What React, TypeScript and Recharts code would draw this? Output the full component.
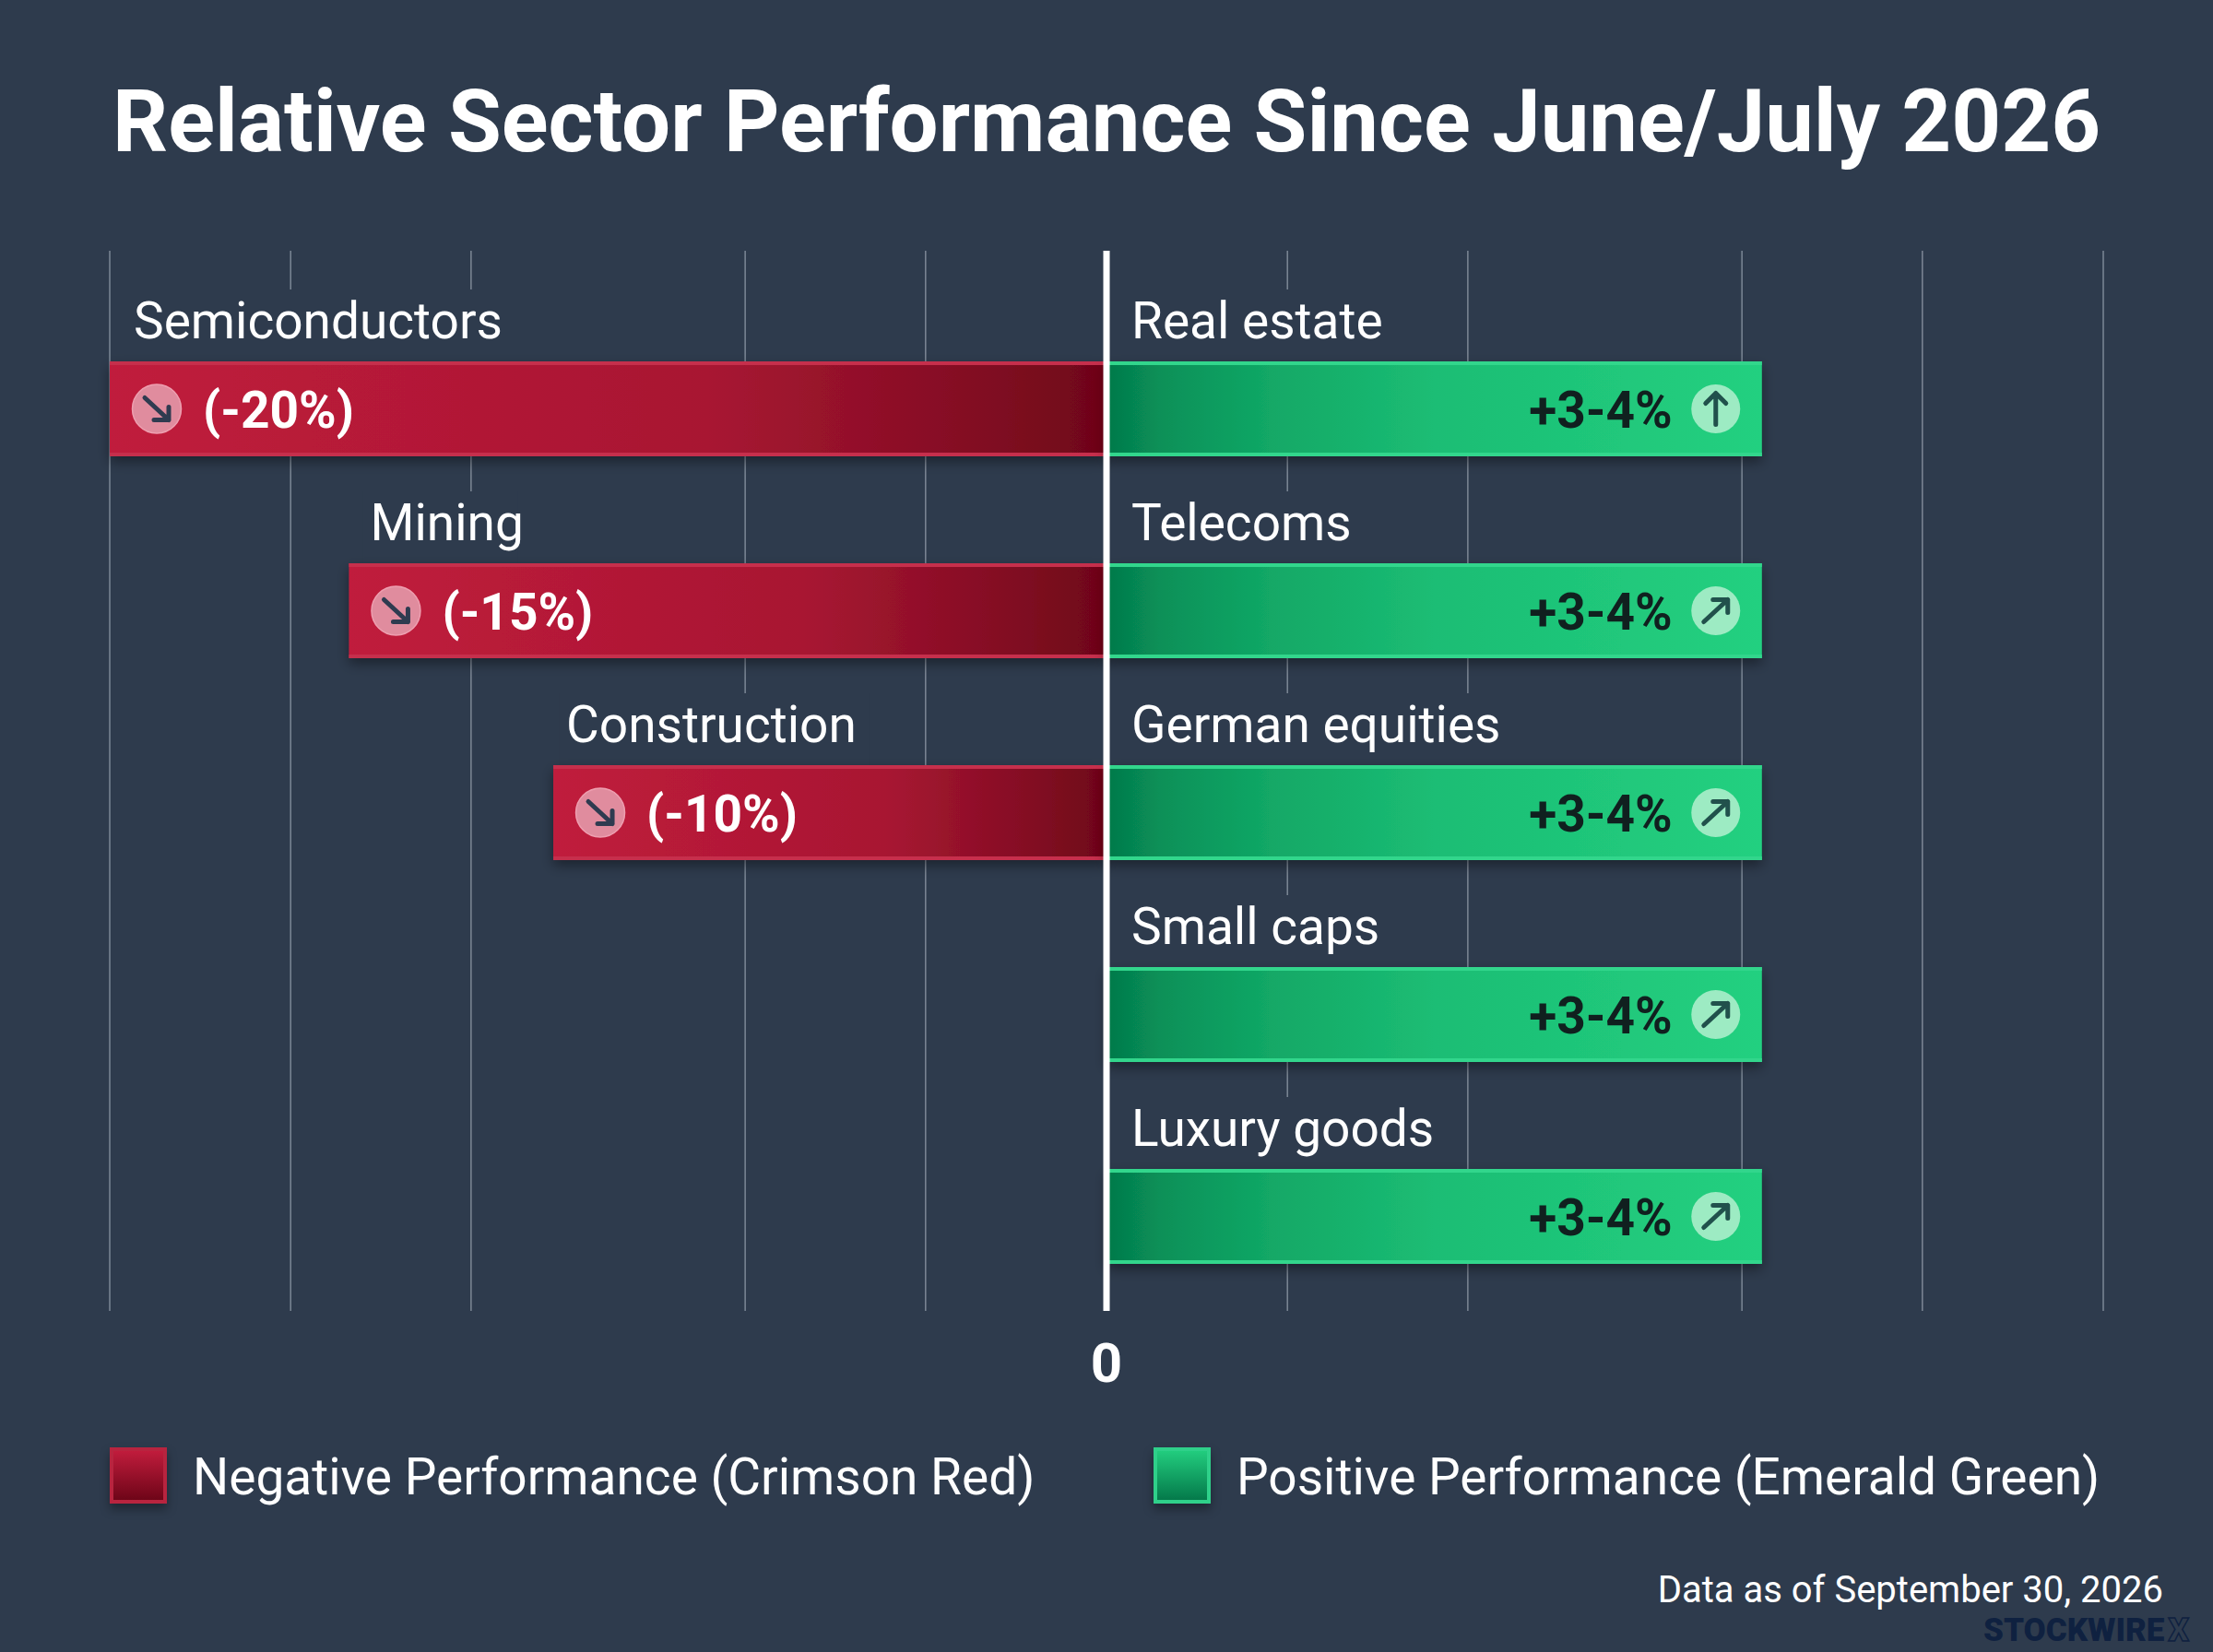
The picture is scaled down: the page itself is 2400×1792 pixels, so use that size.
import { BarChart, Bar, XAxis, YAxis, CartesianGrid, ReferenceLine, Legend } from "recharts";

const W = 2400;
const H = 1792;
const BG = "#2e3b4d";
const FONT = "Roboto, sans-serif";

// rows are shared: one sector on each side of the zero line
const negativeSectors = ["Semiconductors", "Mining", "Construction"];
const negativeValues = [-20, -15.2, -11.1]; // bar lengths as drawn, not to the printed scale
const negativeLabels = ["(-20%)", "(-15%)", "(-10%)"];
const positiveSectors = ["Real estate", "Telecoms", "German equities", "Small caps", "Luxury goods"];
const positiveValues = [13.15, 13.15, 13.15, 13.15, 13.15];
const positiveLabels = ["+3-4%", "+3-4%", "+3-4%", "+3-4%", "+3-4%"];
const positiveArrows = ["up", "diag", "diag", "diag", "diag"];
const gridTicks = [-20, -16.37, -12.75, -7.25, -3.63, 0, 3.63, 7.25, 12.75, 16.37, 20];

// the name above each red bar sits a little differently from the bar's end
const NEG_NAME_INSET = [26, 23, 14];

const rows = positiveSectors.map((sector, i) => ({
  row: sector,
  negative: negativeValues[i] ?? null,
  negativeName: negativeSectors[i],
  negativeLabel: negativeLabels[i],
  positive: positiveValues[i],
  positiveLabel: positiveLabels[i],
  arrow: positiveArrows[i],
}));

function SectorLabel({ x, y, text }: { x: number; y: number; text: string }) {
  return (
    <g>
      <rect x={x - 8} y={y - 78} width={text.length * 28} height={78} fill={BG} />
      <text x={x} y={y - 25} fill="#ffffff" fontFamily={FONT} fontSize={55} fontWeight={400}>
        {text}
      </text>
    </g>
  );
}

function Arrow({ cx, cy, kind, color }: { cx: number; cy: number; kind: string; color: string }) {
  const path =
    kind === "up"
      ? "M0 17 L0 -17 M-11 -6 L0 -17 L11 -6"
      : kind === "down"
      ? "M-13 -12 L13 12 M-3 12 L13 12 L13 -2"
      : "M-13 12 L13 -12 M-3 -12 L13 -12 L13 2";
  return (
    <path
      d={path}
      transform={`translate(${cx} ${cy})`}
      fill="none"
      stroke={color}
      strokeWidth={5}
      strokeLinecap="round"
      strokeLinejoin="round"
    />
  );
}

function NegativeBar(props: any) {
  const { x, y, width, height, payload, index } = props;
  if (!payload.negativeName) return null;
  const left = Math.min(x, x + width);
  const w = Math.abs(width);
  const cy = y + height / 2;
  return (
    <g>
      <SectorLabel x={left + NEG_NAME_INSET[index]} y={y} text={payload.negativeName} />
      <rect x={left} y={y} width={w} height={height} fill="url(#negGrad)" filter="url(#barShadow)" />
      <rect x={left} y={y} width={w} height={4} fill="#c62f4c" />
      <rect x={left} y={y + height - 4} width={w} height={4} fill="#c62f4c" />
      <circle cx={left + 51} cy={cy} r={26.5} fill="#e08c9e" stroke="#ee9fb0" strokeWidth={1.5} />
      <Arrow cx={left + 51} cy={cy} kind="down" color="#2f3b50" />
      <text x={left + 101} y={cy + 20} fill="#ffffff" fontFamily={FONT} fontSize={55} fontWeight={700}>
        {payload.negativeLabel}
      </text>
    </g>
  );
}

function PositiveBar(props: any) {
  const { x, y, width, height, payload } = props;
  const cy = y + height / 2;
  const right = x + width;
  return (
    <g>
      <SectorLabel x={x + 27} y={y} text={payload.row} />
      <rect x={x} y={y} width={width} height={height} fill="url(#posGrad)" filter="url(#barShadow)" />
      <rect x={x} y={y} width={width} height={4} fill="#32d68c" />
      <rect x={x} y={y + height - 4} width={width} height={4} fill="#32d68c" />
      <text
        x={right - 97}
        y={cy + 20}
        textAnchor="end"
        fill="#10201f"
        fontFamily={FONT}
        fontSize={55}
        fontWeight={700}
      >
        {payload.positiveLabel}
      </text>
      <circle cx={right - 50} cy={cy} r={26.5} fill="#9debc3" />
      <Arrow cx={right - 50} cy={cy} kind={payload.arrow} color="#21514c" />
    </g>
  );
}

function LegendRow({ payload }: any) {
  const styles = [
    { left: 119, textLeft: 209, bg: "linear-gradient(#c01c3c, #6e0518)", border: "#b8243f" },
    { left: 1251, textLeft: 1341, bg: "linear-gradient(#22cc7e, #04794a)", border: "#2fd08a" },
  ];
  return (
    <div style={{ position: "relative", width: W, height: 61 }}>
      {(payload || []).map((item: any, i: number) => (
        <div key={item.value}>
          <div
            style={{
              position: "absolute",
              left: styles[i].left,
              top: 0,
              width: 62,
              height: 61,
              boxSizing: "border-box",
              background: styles[i].bg,
              border: `4px solid ${styles[i].border}`,
              boxShadow: "0 6px 10px rgba(0,0,0,0.35)",
            }}
          />
          <div
            style={{
              position: "absolute",
              left: styles[i].textLeft,
              top: 2,
              lineHeight: "61px",
              color: "#ffffff",
              fontFamily: FONT,
              fontSize: 55,
              whiteSpace: "nowrap",
            }}
          >
            {item.value}
          </div>
        </div>
      ))}
    </div>
  );
}

export default function App() {
  return (
    <div style={{ position: "absolute", left: 0, top: 0, width: W, height: H, background: BG, overflow: "hidden" }}>
      <div
        style={{
          position: "absolute",
          left: 0,
          width: W,
          top: 72,
          textAlign: "center",
          color: "#ffffff",
          fontFamily: FONT,
          fontWeight: 700,
          fontSize: 94,
          lineHeight: "120px",
          whiteSpace: "nowrap",
        }}
      >
        Relative Sector Performance Since June/July 2026
      </div>

      <BarChart
        width={W}
        height={H}
        data={rows}
        layout="vertical"
        stackOffset="sign"
        margin={{ top: 272, right: 119, bottom: 229, left: 119 }}
        style={{ position: "absolute", left: 0, top: 0 }}
      >
        <defs>
          <linearGradient id="negGrad" x1="0" y1="0" x2="1" y2="0">
            <stop offset="0%" stopColor="#c01c3c" />
            <stop offset="60%" stopColor="#a81632" />
            <stop offset="85%" stopColor="#850d24" />
            <stop offset="100%" stopColor="#6e0518" />
          </linearGradient>
          <linearGradient id="posGrad" x1="0" y1="0" x2="1" y2="0">
            <stop offset="0%" stopColor="#04794a" />
            <stop offset="8%" stopColor="#089058" />
            <stop offset="25%" stopColor="#12a866" />
            <stop offset="50%" stopColor="#1cbd74" />
            <stop offset="100%" stopColor="#23d080" />
          </linearGradient>
          <filter id="barShadow" x="-5%" y="-20%" width="110%" height="150%">
            <feDropShadow dx={0} dy={6} stdDeviation={7} floodColor="#000000" floodOpacity={0.4} />
          </filter>
        </defs>
        <CartesianGrid horizontal={false} stroke="#7d8896" strokeWidth={1.5} />
        <XAxis
          type="number"
          domain={[-20, 20]}
          ticks={gridTicks}
          interval={0}
          height={80}
          axisLine={false}
          tickLine={false}
          tickMargin={28}
          tick={{ fill: "#ffffff", fontSize: 60, fontWeight: 700, fontFamily: FONT }}
          tickFormatter={(v: number) => (v === 0 ? "0" : "")}
        />
        <YAxis type="category" dataKey="row" hide padding={{ top: 62, bottom: -7 }} />
        <Bar
          dataKey="negative"
          name="Negative Performance (Crimson Red)"
          stackId="sector"
          barSize={103}
          fill="#c01c3c"
          shape={NegativeBar}
          isAnimationActive={false}
        />
        <Bar
          dataKey="positive"
          name="Positive Performance (Emerald Green)"
          stackId="sector"
          barSize={103}
          fill="#22cc7e"
          shape={PositiveBar}
          isAnimationActive={false}
        />
        <ReferenceLine x={0} stroke="#ffffff" strokeWidth={7} />
        <Legend
          content={LegendRow}
          wrapperStyle={{ position: "absolute", left: 0, top: 1570, width: W, height: 61 }}
        />
      </BarChart>

      <div
        style={{
          position: "absolute",
          right: 54,
          top: 1700,
          color: "#ffffff",
          fontFamily: FONT,
          fontSize: 40,
          lineHeight: "50px",
          whiteSpace: "nowrap",
        }}
      >
        Data as of September 30, 2026
      </div>
      <div
        style={{
          position: "absolute",
          left: 2151,
          top: 1749,
          color: "#0f2140",
          fontFamily: FONT,
          fontWeight: 900,
          fontSize: 35,
          lineHeight: "40px",
          whiteSpace: "nowrap",
        }}
      >
        STOCKWIRE
        <span style={{ marginLeft: 4, color: "transparent", WebkitTextStroke: "1.5px #0f2140" }}>X</span>
      </div>
    </div>
  );
}
